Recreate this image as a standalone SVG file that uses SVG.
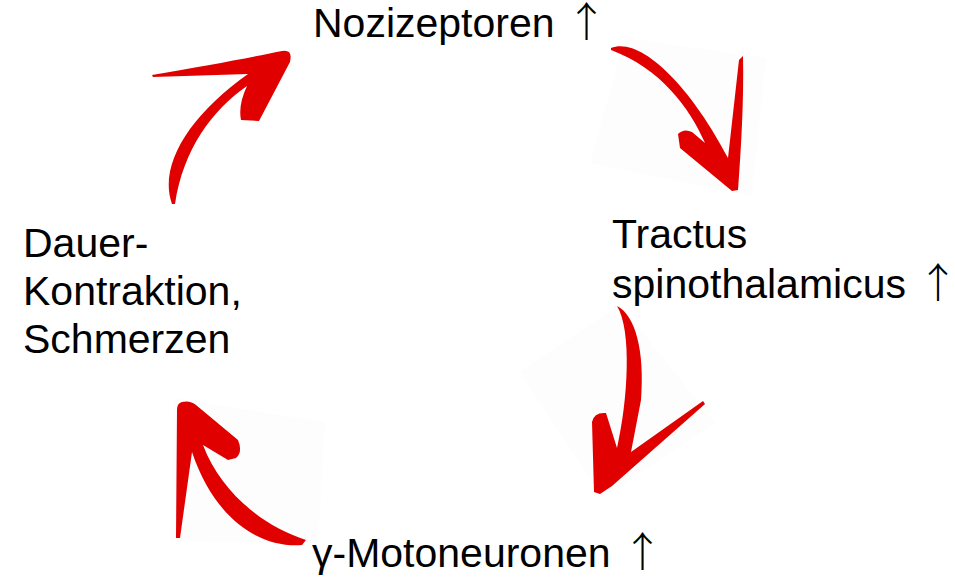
<svg xmlns="http://www.w3.org/2000/svg" width="955" height="585" viewBox="0 0 955 585">
  <style>
    .label { font-family: "Liberation Sans", Arial, sans-serif; font-size: 41px; fill: #000; }
    .up { font-family: "Noto Sans CJK JP", "DejaVu Sans", sans-serif; font-weight: 300; }
    .brush { fill: #e00000; }
    .paper { fill: #fdfdfd; }
  </style>
  <rect width="955" height="585" fill="#fff"/>

  <!-- faint backing sheets behind the brush arrows -->
  <g id="backdrops">
    <polygon class="paper" points="625,38 766,58 752,196 590,163"/>
    <polygon class="paper" points="620,305 715,423 603,497 520,372"/>
    <polygon class="paper" points="174,398 325,422 318,545 170,540"/>
  </g>

  <!-- circular brush-stroke arrows -->
  <g id="connectors">
    <path id="arrow-nozi-tractus" class="brush" d="M 611,48 C 640,36 690,85 728,158 L 739,60 L 743,56 C 744,100 741,150 738,190 L 732,191 L 680,148 L 678,134 Q 684,128 692,132 L 705,143 C 690,108 660,68 611,50 Z"/>
    <path id="arrow-tractus-motoneuronen" class="brush" d="M 617,306 C 635,315 645,350 641,400 L 631,452 L 703,401 L 705,404 L 612,486 L 600,494 L 594,492 L 592,422 Q 594,412 606,413 L 617,448 C 628,400 632,330 617,306 Z"/>
    <path id="arrow-motoneuronen-dauer" class="brush" d="M 182,402 Q 190,400 196,405 L 238,440 Q 243,452 236,458 L 228,460 L 203,445 C 220,490 260,525 306,540 L 302,545 C 260,548 215,520 192,452 L 180,538 L 176,538 L 177,410 Q 177,403 182,402 Z"/>
    <path id="arrow-dauer-nozi" class="brush" d="M 172,204 C 158,165 190,115 248,74 L 153,77 L 152,75 C 205,66 248,58 282,51 Q 293,49 290,62 L 259,121 L 241,120 Q 238,105 247,86 C 212,110 183,150 175,204 Z"/>
  </g>

  <g id="node-nozizeptoren">
    <text class="label" x="313" y="37">Nozizeptoren <tspan class="up">↑</tspan></text>
  </g>
  <g id="node-tractus">
    <text class="label" x="612" y="248">Tractus</text>
    <text class="label" x="612" y="298">spinothalamicus <tspan class="up">↑</tspan></text>
  </g>
  <g id="node-motoneuronen">
    <text class="label" x="312" y="567">γ-Motoneuronen <tspan class="up">↑</tspan></text>
  </g>
  <g id="node-dauerkontraktion">
    <text class="label" x="23" y="257">Dauer-</text>
    <text class="label" x="23" y="305">Kontraktion,</text>
    <text class="label" x="23" y="353">Schmerzen</text>
  </g>
</svg>
